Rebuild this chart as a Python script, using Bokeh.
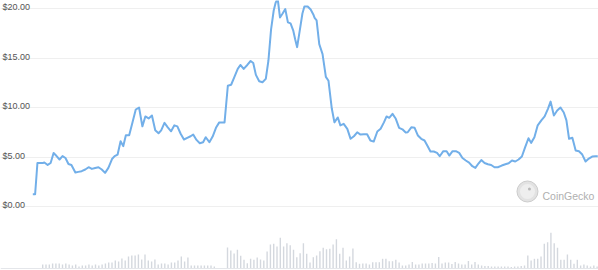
from bokeh.plotting import figure
from bokeh.models import Range1d, Grid, FixedTicker, Span, Label
from bokeh.core.properties import value
from bokeh.embed import file_html
from bokeh.resources import INLINE

# ---- data ----
price_day = [
    0.0, 0.7, 1.4, 3.2, 3.5, 4.5, 5.4, 6.3, 7.2, 8.1, 9.0, 9.9, 10.8, 11.7, 12.9, 13.8, 14.8, 15.9, 16.9, 17.9,
    18.9, 19.9, 20.9, 21.9, 22.9, 24.0, 24.8, 25.7, 26.6, 27.4,
    28.2, 29.2, 30.2, 31.2, 32.2, 33.2, 34.1, 35.1, 36.1, 37.1, 38.1, 38.9, 39.9, 40.9, 41.9, 42.9, 43.8, 44.8,
    45.8, 46.8, 47.8, 48.6, 49.6, 50.6, 51.6, 52.4, 53.5, 54.5, 55.5, 56.5,
    58.1, 59.1, 60.1, 61.1, 62.1, 62.9, 63.9, 65.0, 66.0, 66.8, 67.6, 68.6, 69.6, 70.6, 71.4, 72.2, 73.0, 73.6,
    74.2, 74.9, 75.7, 76.5, 77.3, 78.1, 78.9, 79.5, 80.1, 80.9, 81.7, 82.3, 83.3, 84.2,
    85.0, 85.4, 86.0, 86.8, 87.8, 88.8, 89.6, 90.6, 91.4, 92.4, 93.2, 94.2, 95.3, 96.3, 97.3, 98.3, 99.3, 100.3,
    101.3, 102.3, 103.3, 104.4, 105.4, 106.4, 107.2, 108.0, 109.0, 110.0, 111.0, 112.0, 113.0,
    113.6, 114.7, 115.7, 116.7, 117.7, 118.7, 119.7, 120.5, 121.5, 122.5, 123.3, 124.4, 125.4, 126.2, 127.2,
    128.2, 129.2, 130.2, 131.2, 132.2, 133.2, 134.1, 135.1, 135.9, 136.9, 137.9, 138.9, 139.9, 140.9,
    142.1, 143.2, 144.2, 145.2, 146.2, 147.2, 148.2, 149.2, 150.2, 151.0, 152.0, 153.0, 154.1, 155.1, 156.1,
    156.9, 157.9, 158.9, 159.9, 160.9, 161.7, 162.5, 163.5, 164.5, 165.5, 166.5, 167.5, 168.5, 169.5, 170.5, 171.2,
]
price = [
    1.24, 1.24, 4.4, 4.4, 4.45, 4.2, 4.4, 5.4, 5.1, 4.75, 5.1, 4.9, 4.3, 4.2, 3.43, 3.5, 3.57, 3.74, 3.97, 3.8,
    3.9, 3.97, 3.74, 3.4, 3.9, 4.8, 5.1, 5.25, 6.6, 6.1,
    7.2, 7.2, 8.5, 9.8, 10.0, 8.1, 9.1, 8.9, 9.2, 7.7, 7.4, 7.7, 8.45, 8.0, 7.6, 8.2, 8.1, 7.35,
    6.77, 6.94, 7.1, 7.27, 6.73, 6.4, 6.5, 7.0, 6.5, 7.07, 7.95, 8.5,
    8.5, 12.2, 12.3, 13.1, 13.9, 14.3, 13.9, 14.3, 14.7, 14.5, 13.3, 12.65, 12.55, 12.9, 14.75, 17.9, 19.8, 20.6,
    21.0, 19.1, 19.5, 19.95, 18.6, 18.5, 17.8, 16.9, 16.1, 17.8, 19.5, 20.2, 20.2, 19.9,
    19.4, 19.05, 18.8, 16.4, 15.4, 13.1, 12.7, 9.9, 8.5, 9.0, 8.2, 8.35, 7.85, 6.84, 7.1, 7.5, 7.27, 7.3,
    7.3, 6.67, 6.56, 7.58, 7.85, 8.5, 9.1, 8.96, 9.36, 8.86, 7.95, 7.8, 7.47,
    7.5, 8.0, 7.95, 7.17, 6.84, 6.67, 6.06, 5.56, 5.56, 5.42, 5.08, 5.59, 5.59, 5.15, 5.59,
    5.59, 5.42, 4.9, 4.65, 4.44, 4.07, 3.9, 4.37, 4.7, 4.4, 4.27, 4.2, 3.97, 3.97,
    4.14, 4.27, 4.37, 4.65, 4.55, 4.75, 5.05, 6.0, 6.9, 6.43, 7.0, 8.2, 8.7, 9.1, 9.87,
    10.6, 9.2, 9.7, 10.0, 9.5, 8.7, 6.84, 6.94, 5.66, 5.59, 5.25, 4.55, 4.85, 5.05, 5.08, 5.08,
]
vol_first_day = 3
volume = [
    4, 4, 4, 5, 5, 5, 4, 5, 4, 3,
    4, 2, 3, 3, 4, 3, 4, 3, 4, 5,
    6, 6, 8, 7, 10, 8, 12, 13, 13, 14,
    9, 14, 8, 7, 9, 4, 5, 5, 4, 6,
    6, 8, 12, 7, 11, 3, 3, 3, 3, 3,
    3, 3, 2, 0, 0, 0, 21, 18, 15, 18.7,
    12.7, 8.7, 5.3, 9.7, 8.7, 11, 9, 8, 17, 24,
    24.7, 22, 30.7, 22, 25.3, 23.3, 18.7, 11.3, 15.3, 25.3,
    14.7, 6, 11.3, 13, 17.3, 20.7, 19.3, 19.7, 24, 29.3,
    14.7, 20.7, 8, 12, 20, 6.3, 4.7, 5, 5, 4,
    6.3, 6.3, 6.3, 9.7, 9.7, 7.3, 7.3, 8.7, 6, 3,
    3, 4, 6.5, 4, 4, 5, 5, 5, 5.5, 5,
    11.5, 5, 6, 6, 4.5, 6.5, 5, 4, 4, 7.5,
    4, 6.5, 4, 3, 2.5, 2.5, 2, 2, 2, 2,
    2, 2, 1.5, 2, 2, 2.5, 3, 13, 8, 9.7,
    9.7, 12, 24.7, 26.3, 35.7, 25.3, 20.7, 8.7, 8.7, 14,
    8.7, 4.7, 8.7, 3, 4, 3, 2, 3, 2,
]
vol_day = list(range(vol_first_day, vol_first_day + len(volume)))
price_ticks = [0, 5, 10, 15, 20]
tick_labels = ["$0.00", "$5.00", "$10.00", "$15.00", "$20.00"]

# ---- figure ----
p = figure(width=598, height=270, output_backend="svg", toolbar_location=None, tools="",
           x_range=Range1d(-9.79, 171.42), y_range=Range1d(-6.46, 20.81),
           x_axis_location=None, y_axis_location=None, min_border=0,
           outline_line_color=None, background_fill_color="white", border_fill_color="white")
p.extra_y_ranges = {"vol": Range1d(-2, 268)}
p.grid.visible = False

grid = Grid(dimension=1, ticker=FixedTicker(ticks=price_ticks),
            grid_line_color="#efefef", grid_line_width=1)
p.add_layout(grid)

p.vbar(x=vol_day, top=volume, bottom=0, width=0.42, y_range_name="vol",
       fill_color="#d4d8de", line_color=None)
p.add_layout(Span(location=0, dimension="width", y_range_name="vol",
                  line_color="#e4e6ea", line_width=1))

p.line(price_day, price, line_color="#72afe9", line_width=2, line_join="round")

p.text(x=[p.x_range.start] * len(price_ticks), y=price_ticks, text=tick_labels,
       text_font=value("Liberation Sans"), text_font_size="9px", text_color="#555555",
       text_baseline="alphabetic", text_align="left", x_offset=2, y_offset=-1.5)

# CoinGecko watermark
logo_day, logo_price = 149.9, 1.52
p.scatter([logo_day], [logo_price], size=21, fill_color="#e2e2e2", line_color="#cccccc", line_width=1)
p.scatter([logo_day], [logo_price], size=15, fill_color="#eeeeee", line_color=None)
p.scatter([logo_day + 0.6], [logo_price + 0.25], size=3, fill_color="#b8b8b8", line_color=None)
p.add_layout(Label(x=542, y=75, x_units="screen", y_units="screen", text="CoinGecko",
                   text_font="Liberation Sans", text_font_size="10.5px", text_color="#b0b0b0",
                   text_baseline="alphabetic"))

open("out.html", "w").write(file_html(p, INLINE))
